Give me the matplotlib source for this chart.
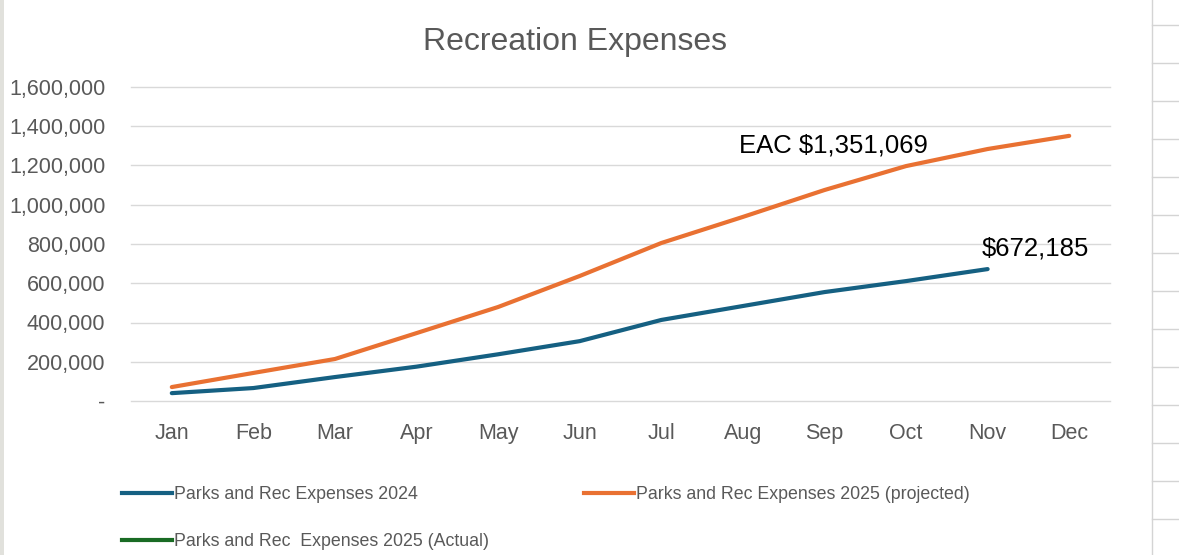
import matplotlib.pyplot as plt
from matplotlib.lines import Line2D
from matplotlib.patches import Rectangle
from matplotlib.ticker import FuncFormatter

months = ["Jan", "Feb", "Mar", "Apr", "May", "Jun", "Jul", "Aug", "Sep", "Oct", "Nov", "Dec"]
exp_2024 = [40000, 66000, 122000, 175000, 238000, 305000, 413000, 484000, 555000, 611000, 672185]
exp_2025_proj = [71000, 143000, 214000, 346000, 479000, 637000, 805000, 938000, 1075000, 1197000, 1284000, 1351069]
exp_2025_actual = []

label_2024 = "Parks and Rec Expenses 2024"
label_proj = "Parks and Rec Expenses 2025 (projected)"
label_actual = "Parks and Rec  Expenses 2025 (Actual)"

c_blue = "#156082"
c_orange = "#E97132"
c_green = "#196B24"
c_text = "#595959"

plt.rcParams["font.family"] = ["Liberation Sans", "DejaVu Sans"]

fig = plt.figure(figsize=(11.79, 5.55), dpi=100)
ax = fig.add_axes([131 / 1179, 1 - 401 / 555, (1110 - 131) / 1179, (401 - 87) / 555])

x = list(range(len(months)))
ax.plot(x[:len(exp_2024)], exp_2024, color=c_blue, lw=3, solid_capstyle="round", label=label_2024)
ax.plot(x, exp_2025_proj, color=c_orange, lw=3, solid_capstyle="round", label=label_proj)
ax.plot(x[:len(exp_2025_actual)], exp_2025_actual, color=c_green, lw=3, solid_capstyle="round", label=label_actual)

ax.set_xlim(-0.5, 11.5)
ax.set_ylim(0, 1600000)
ax.set_yticks(range(0, 1600001, 200000))
ax.yaxis.set_major_formatter(FuncFormatter(lambda v, p: "-" if v == 0 else f"{int(v):,}"))
ax.set_xticks(x)
ax.set_xticklabels(months)
ax.grid(axis="y", color="#d9d9d9", lw=1)
for gl in ax.get_ygridlines():
    gl.set_clip_on(False)
ax.set_axisbelow(True)
for s in ax.spines.values():
    s.set_visible(False)
ax.tick_params(axis="y", length=0, pad=18.5, labelsize=15.5, labelcolor=c_text)
ax.tick_params(axis="x", length=0, pad=16, labelsize=15.5, labelcolor=c_text)

ax.annotate(f"EAC ${exp_2025_proj[-1]:,}", xy=(11, exp_2025_proj[-1]), xytext=(-141, -10),
            textcoords="offset pixels", ha="right", va="center", fontsize=18.5, color="black")
ax.annotate(f"${exp_2024[-1]:,}", xy=(len(exp_2024) - 1, exp_2024[-1]), xytext=(48, 21),
            textcoords="offset pixels", ha="center", va="center", fontsize=18.5, color="black")

fig.text(575 / 1179, 1 - 42 / 555, "Recreation Expenses", ha="center", va="center",
         fontsize=23, color=c_text)

handles = [Line2D([], [], color=c_blue, lw=3), Line2D([], [], color=c_green, lw=3),
           Line2D([], [], color=c_orange, lw=3)]
labels = [label_2024, label_actual, label_proj]
fig.legend(handles, labels, ncol=2, loc="upper left", bbox_to_anchor=(106 / 1179, 1 - 470 / 555),
           frameon=False, fontsize=12.8, labelcolor=c_text, handlelength=2.8, handletextpad=0.12,
           columnspacing=5.35, labelspacing=1.68)

# spreadsheet surroundings
fig.add_artist(Rectangle((0, 0), 4 / 1179, 1, transform=fig.transFigure, color="#e1e1dc", lw=0))
fig.add_artist(Line2D([1152 / 1179] * 2, [0, 1], transform=fig.transFigure, color="#d4d4d4", lw=1))
for yy in range(25, 555, 38):
    fig.add_artist(Line2D([1152 / 1179, 1], [1 - yy / 555] * 2, transform=fig.transFigure,
                          color="#d4d4d4", lw=1))

fig.savefig("out.png", dpi=100)
